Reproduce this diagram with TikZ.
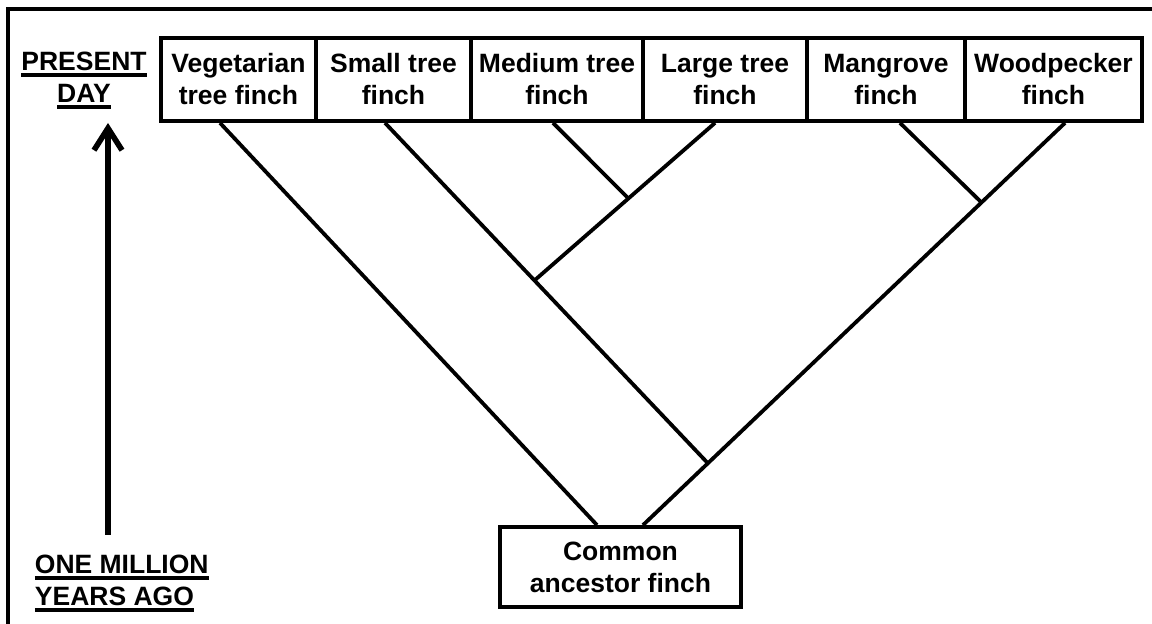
\documentclass[tikz,border=0pt]{standalone}
\usepackage{fontspec}
\setmainfont{Liberation Sans}
\usetikzlibrary{arrows.meta}
\newcommand{\ulbar}[1]{\leavevmode\setbox0\hbox{#1}\rlap{\vrule width\wd0 height -1.4pt depth 3.2pt}\box0}

\begin{document}
\begin{tikzpicture}[x=0.5pt,y=-0.5pt,line width=1.9pt,
  every node/.style={font=\fontsize{13.25}{16}\selectfont\bfseries,align=center},
  finch/.style={draw,rectangle,minimum height=41.5pt,inner sep=0pt}]
\useasboundingbox (0,0) rectangle (1152,624);
% frame
\draw[line width=2.2pt] (8,9) rectangle (1200,700);
% time axis
\node[anchor=north,inner sep=0pt] (present) at (84,50) {\ulbar{PRESENT}\\\ulbar{DAY}};
\node[anchor=north west,inner sep=0pt,align=left] (ago) at (33,553) {\ulbar{ONE MILLION}\\\ulbar{YEARS AGO}};
\coordinate (past) at (108,535);
\coordinate (now) at (108,123);
\draw[line width=2.8pt,-{Straight Barb[length=11pt,width=14pt]}] (past) -- (now);
% species
\node[finch,minimum width=77.5pt] (veg) at (238.5,79.5) {Vegetarian\\tree finch};
\node[finch,minimum width=77.5pt] (small) at (393.5,79.5) {Small tree\\finch};
\node[finch,minimum width=86pt] (medium) at (557,79.5) {Medium tree\\finch};
\node[finch,minimum width=82pt] (large) at (725,79.5) {Large tree\\finch};
\node[finch,minimum width=79pt] (mangrove) at (886,79.5) {Mangrove\\finch};
\node[finch,minimum width=88.5pt] (woodpecker) at (1053.5,79.5) {Woodpecker\\finch};
\node[finch,minimum width=120.5pt,minimum height=40pt] (ancestor) at (620.5,567) {Common\\ancestor finch};
% branch points
\coordinate (jmed) at (628,198);
\coordinate (jsmall) at (535,280);
\coordinate (jmang) at (981,202);
\coordinate (jright) at (708.6,464);
% tree
\draw ([xshift=-9.25pt]veg.south) -- ([xshift=-11.75pt]ancestor.north);
\draw ([xshift=5.75pt]woodpecker.south) -- ([xshift=11.25pt]ancestor.north);
\draw ([xshift=-4.25pt]small.south) -- (jright);
\draw ([xshift=-5pt]large.south) -- (jsmall);
\draw ([xshift=-2pt]medium.south) -- (jmed);
\draw ([xshift=7pt]mangrove.south) -- (jmang);
\end{tikzpicture}
\end{document}
